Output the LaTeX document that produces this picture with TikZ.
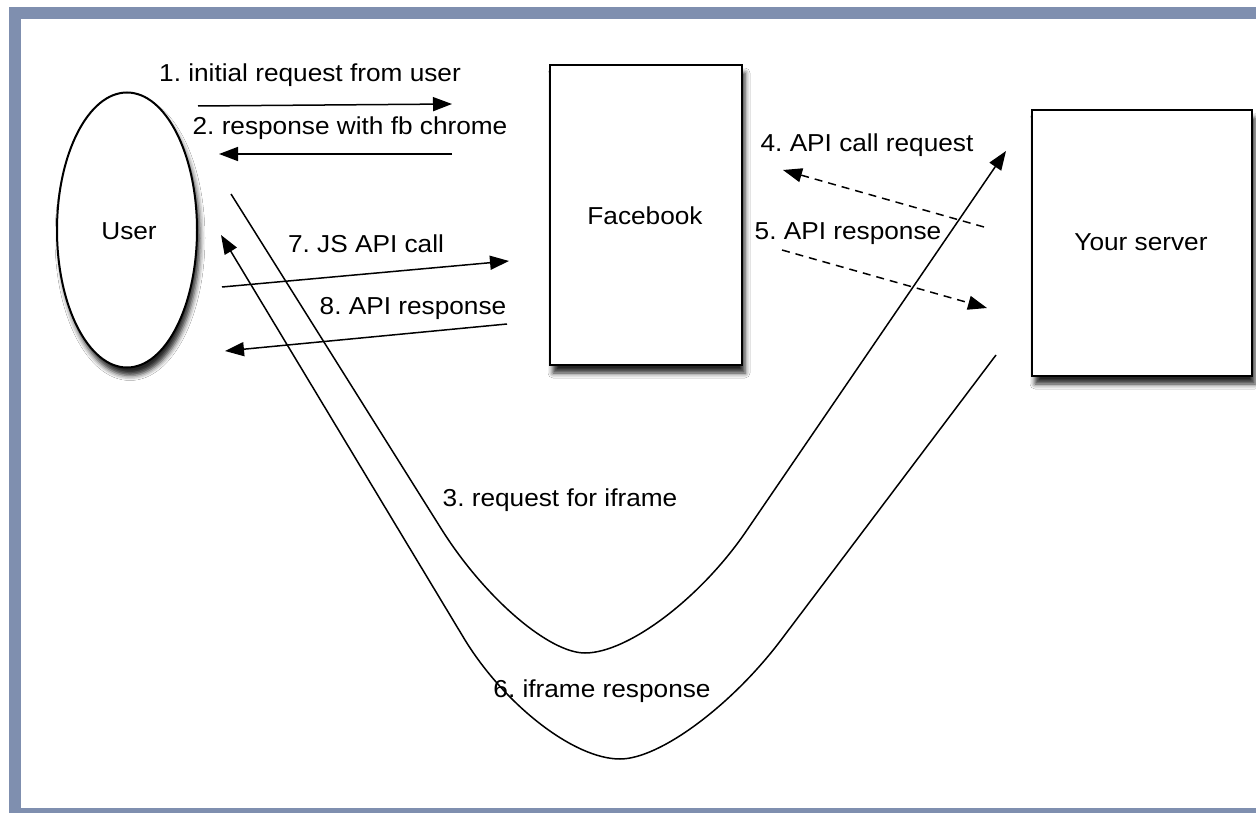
\documentclass[tikz,border=0pt]{standalone}
\usepackage{fontspec}
\setmainfont[FakeStretch=1.07]{Liberation Sans}
\usetikzlibrary{arrows.meta,shapes.geometric,shadows.blur}
\definecolor{framebl}{RGB}{127,143,175}
\frenchspacing
\begin{document}
\begin{tikzpicture}[x=1pt,y=-1pt,
  lbl/.style={font=\fontsize{24.5}{29}\selectfont, inner sep=0pt, text=black},
  entity/.style={draw, line width=2pt, fill=white, font=\fontsize{24.5}{29}\selectfont,
    blur shadow={shadow xshift=3pt, shadow yshift=-8pt, shadow blur radius=5pt, shadow opacity=85}},
  flowarrow/.style={line width=1.5pt, -{Triangle[length=19pt,width=14pt]}},
  flowdash/.style={flowarrow, dash pattern=on 8pt off 6pt},
]
\useasboundingbox (0,0) rectangle (1256,813);
% frame
\fill[white] (0,0) rectangle (1256,813);
\fill[framebl] (9,7) rectangle (1256,813);
\fill[white] (21,19) rectangle (1256,808);

% entities
\node[entity, ellipse, minimum width=140pt, minimum height=275pt, inner sep=0pt] (user) at (127,230) {};
\node[lbl] (userlbl) at (129,231) {User};
\node[entity, rectangle, minimum width=192pt, minimum height=300pt, inner sep=0pt] (fb) at (646,215) {};
\node[lbl] (fblbl) at (645,216) {Facebook};
\node[entity, rectangle, minimum width=220pt, minimum height=266pt, inner sep=0pt] (srv) at (1142,243) {};
\node[lbl] (srvlbl) at (1141,242) {Your server};

% arrow end points
\coordinate (a1s) at (198,106);
\coordinate (a1e) at (452,104);
\coordinate (a2s) at (452,154);
\coordinate (a2e) at (219,154);
\coordinate (a7s) at (222,287);
\coordinate (a7e) at (509,261);
\coordinate (a8s) at (507,324);
\coordinate (a8e) at (225,351);
\coordinate (a4s) at (984,227);
\coordinate (a4e) at (783,170);
\coordinate (a5s) at (782,250);
\coordinate (a5e) at (987,308);
\coordinate (c3s) at (231,194);
\coordinate (c3e) at (1006,151);
\coordinate (c6s) at (996,355);
\coordinate (c6e) at (221,235);

% straight arrows
\draw[flowarrow] (a1s) -- (a1e);
\draw[flowarrow] (a2s) -- (a2e);
\draw[flowarrow] (a7s) -- (a7e);
\draw[flowarrow] (a8s) -- (a8e);
\draw[flowdash] (a4s) -- (a4e);
\draw[flowdash] (a5s) -- (a5e);

% curved arrows
\draw[flowarrow] (c3s) -- (442,530) .. controls (485,598) and (549,653) .. (585,653)
  .. controls (628,653) and (701,598) .. (747,530) -- (c3e);
\draw[flowarrow] (c6s) -- (781,640) .. controls (732,705) and (660,759) .. (620,759)
  .. controls (574,759) and (505,705) .. (465,640) -- (c6e);

% labels
\node[lbl] (l1) at (310,75) {1. initial request from user};
\node[lbl] (l2) at (350,128) {2. response with fb chrome};
\node[lbl] (l7) at (366,244) {7. JS API call};
\node[lbl] (l8) at (413,308) {8. API response};
\node[lbl] (l4) at (867,145) {4. API call request};
\node[lbl] (l5) at (848,234) {5. API response};
\node[lbl] (l3) at (560,500) {3. request for iframe};
\node[lbl] (l6) at (602,691) {6. iframe response};
\end{tikzpicture}
\end{document}
